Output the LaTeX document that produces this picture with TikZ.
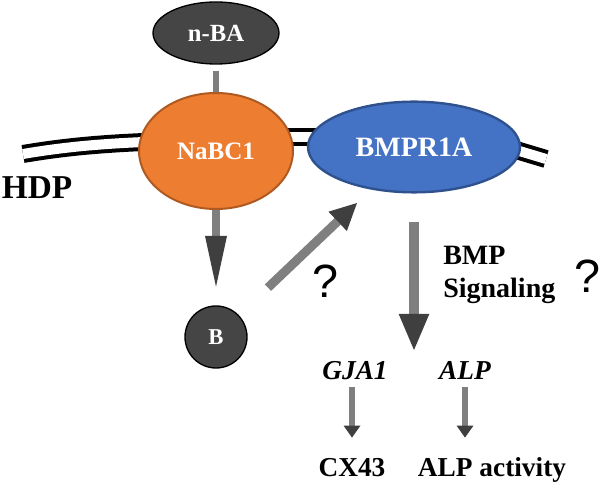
\documentclass[tikz,border=0pt]{standalone}
\usepackage{fontspec}
\setmainfont{Liberation Serif}
\newfontfamily\qfont{Liberation Sans}
\usetikzlibrary{arrows.meta}
\usetikzlibrary{shapes.geometric}

\definecolor{shaftgrey}{HTML}{7F7F7F}
\definecolor{headgrey}{HTML}{3F3F3F}
\definecolor{ligand}{HTML}{454545}
\definecolor{nabcfill}{HTML}{ED7D31}
\definecolor{nabcline}{HTML}{AE5A21}
\definecolor{bmprfill}{HTML}{4472C4}
\definecolor{bmprline}{HTML}{2F528F}

\begin{document}
\begin{tikzpicture}[x=0.75pt, y=-0.75pt,
  membrane/.style={draw=black, double=white, line width=3pt, double distance=7.5pt},
  mol/.style={text=white, inner sep=0pt},
  lbl/.style={font=\fontsize{20.5}{24}\selectfont\bfseries, inner sep=0pt, text height=13.6pt, text depth=0pt, anchor=base},
  gene/.style={lbl, font=\fontsize{20.5}{24}\selectfont\bfseries\itshape},
  qmark/.style={font=\qfont\fontsize{35}{40}\selectfont, inner sep=0pt, anchor=base},
  pipe/.style={draw=shaftgrey, line width=#1},
  headtip/.style 2 args={arrows={-{Triangle[length=#1, width=#2, line width=0pt, color=headgrey, fill=headgrey]}}}]
\useasboundingbox (0,0) rectangle (601,484);

% membrane
\draw [membrane] (23,154) .. controls (70,146) and (110,143) .. (170,141);
\draw [membrane] (270,137.5) -- (350,137.5);
\draw [membrane] (500,145.2) -- (546,159);

\node [ellipse, draw=black, line width=1pt, fill=ligand, minimum width=94.5pt, minimum height=46.5pt, mol, font=\fontsize{18.5}{22}\selectfont\bfseries] (nba) at (216,33) {n-BA};
\node [ellipse, draw=nabcline, line width=1.5pt, fill=nabcfill, minimum width=115.5pt, minimum height=87pt, mol, font=\fontsize{18.8}{22}\selectfont\bfseries] (nabc) at (216,151) {NaBC1};
\node [ellipse, draw=bmprline, line width=1.8pt, fill=bmprfill, minimum width=159pt, minimum height=68pt, mol, font=\fontsize{21}{25}\selectfont\bfseries] (bmpr) at (414,147) {BMPR1A};
\node [circle, draw=black, line width=1pt, fill=ligand, minimum size=46.5pt, mol, font=\fontsize{17}{20}\selectfont\bfseries] (b) at (216,337) {B};

\node [font=\fontsize{25}{30}\selectfont\bfseries, inner sep=0pt] (hdp) at (37,188) {HDP};

\node [lbl, anchor=base west, font=\fontsize{21}{25}\selectfont\bfseries] (bmp) at (443,265) {BMP};
\node [lbl, anchor=base west, font=\fontsize{21}{25}\selectfont\bfseries] (sig) at (443,298) {Signaling};
\node [qmark] (qleft) at (325,298) {?};
\node [qmark] (qright) at (587,293) {?};

\node [gene] (gja) at (355,380) {GJA1};
\node [gene] (alp) at (465,380) {ALP};
\node [lbl] (cx) at (352,477) {CX43};
\node [lbl] (act) at (492,477) {ALP activity};

\coordinate (btip) at (357,203);
\coordinate (sigend) at (414,350);

\draw [pipe=4.5pt, shorten <=4.5pt] (nba) -- (nabc);
\draw [pipe=6pt, shorten >=14pt, headtip={38pt}{16.5pt}] (nabc) -- (b);
\draw [pipe=6.75pt, shorten <=30pt, headtip={20pt}{20pt}] (b) -- (btip);
\draw [pipe=7.5pt, shorten <=21pt, headtip={27pt}{23pt}] (bmpr) -- (sigend);
\draw [pipe=5pt, shorten <=5.25pt, shorten >=15.75pt, headtip={9pt}{12.75pt}] (gja.south -| cx) -- (cx.north);
\draw [pipe=5pt, shorten <=5.25pt, shorten >=15.75pt, headtip={9pt}{12.75pt}] (alp.south) -- (alp.south |- act.north);
%\draw [pipe=5pt] (gja) -- (alp);
\end{tikzpicture}
\end{document}
